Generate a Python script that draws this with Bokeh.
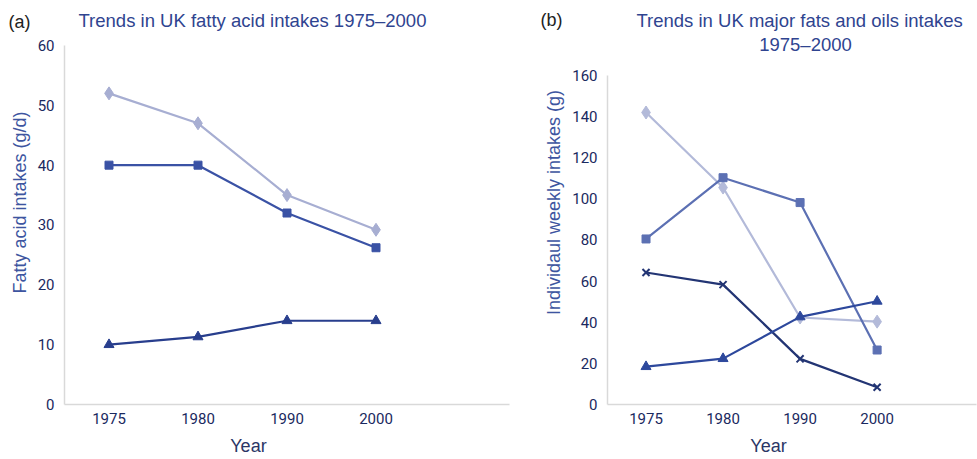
from bokeh.plotting import figure
from bokeh.layouts import row
from bokeh.models import Range1d, FixedTicker, Label, LinearAxis
from bokeh.embed import file_html
from bokeh.resources import INLINE

# ---------------- data ----------------
years = ["1975", "1980", "1990", "2000"]

# (a) fatty acid intakes (g/d)
a_diamond = [52, 47, 35, 29.2]
a_square = [40, 40, 32, 26.2]
a_triangle = [10, 11.3, 14, 14]
a_ticks = [0, 10, 20, 30, 40, 50, 60]

# (b) individual weekly intakes of major fats and oils (g)
b_diamond = [142, 105.5, 42.3, 40.3]
b_square = [80.5, 110.3, 98.2, 26.5]
b_cross = [64.2, 58.3, 22.2, 8.4]
b_triangle = [18.4, 22.3, 42.6, 50.2]
b_ticks = [0, 20, 40, 60, 80, 100, 120, 140, 160]

TEXT_FONT = "Liberation Sans"
TICK_FONT = "Roboto"
TITLE_COLOR = "#2f4490"
TICK_COLOR = "#1a2960"
YLABEL_COLOR = "#3d55a0"
XLABEL_COLOR = "#2b3666"
AXIS_COLOR = "#d9d9d9"

xs = list(range(len(years)))


def plain_axis(ax):
    ax.major_tick_line_color = None
    ax.minor_tick_line_color = None
    ax.major_tick_out = 0
    ax.major_tick_in = 0
    ax.minor_tick_out = 0
    ax.minor_tick_in = 0


def base_figure(width, x_end, y_top, y_end, ticks, left, right, ylabel,
                tag, tag_y, tag_standoff, year_x):
    p = figure(width=width, height=459,
               x_range=Range1d(-0.5, x_end), y_range=Range1d(0, y_end),
               output_backend="svg", toolbar_location=None, title=None,
               min_border_left=left, min_border_right=right,
               min_border_top=0, min_border_bottom=55)
    p.outline_line_color = None
    p.grid.visible = False
    for ax in (p.xaxis[0], p.yaxis[0]):
        plain_axis(ax)
        ax.axis_line_color = AXIS_COLOR
        ax.axis_line_width = 1.5
        ax.major_label_text_font = TICK_FONT
        ax.major_label_text_font_size = "15px"
        ax.major_label_text_color = TICK_COLOR
        ax.major_label_standoff = 10
    p.xaxis.major_label_standoff = 8
    p.xaxis.ticker = FixedTicker(ticks=xs)
    p.xaxis.major_label_overrides = {i: y for i, y in enumerate(years)}
    p.yaxis.ticker = FixedTicker(ticks=ticks)
    p.yaxis.bounds = (0, y_top)
    p.yaxis.axis_label = ylabel
    p.yaxis.axis_label_text_font = TEXT_FONT
    p.yaxis.axis_label_text_font_size = "18px"
    p.yaxis.axis_label_text_font_style = "normal"
    p.yaxis.axis_label_text_color = YLABEL_COLOR
    p.yaxis.axis_label_standoff = 5
    # panel tag "(a)" / "(b)" shown as a horizontal label on an extra axis
    tag_axis = LinearAxis(ticker=FixedTicker(ticks=[tag_y]),
                          major_label_overrides={tag_y: tag},
                          axis_line_color=None,
                          major_label_text_font=TEXT_FONT,
                          major_label_text_font_size="18px",
                          major_label_text_color="#222222",
                          major_label_standoff=tag_standoff)
    plain_axis(tag_axis)
    p.add_layout(tag_axis, "left")
    # x-axis title "Year" placed as in the original (under the year columns)
    year_axis = LinearAxis(ticker=FixedTicker(ticks=[year_x]),
                           major_label_overrides={year_x: "Year"},
                           axis_line_color=None,
                           major_label_text_font=TEXT_FONT,
                           major_label_text_font_size="18px",
                           major_label_text_color=XLABEL_COLOR,
                           major_label_standoff=9)
    plain_axis(year_axis)
    p.add_layout(year_axis, "below")
    return p


def series(p, ys, color, marker, size, lw=2.2):
    p.line(xs, ys, line_color=color, line_width=lw)
    if marker == "x":
        p.scatter(xs, ys, marker="x", size=size, line_color=color, line_width=2)
    else:
        p.scatter(xs, ys, marker=marker, size=size, fill_color=color,
                  line_color=color)


def text(p, x, y, s, color, size="18.5px"):
    p.add_layout(Label(x=x, y=y, text=s, text_font=TEXT_FONT,
                       text_font_size=size, text_color=color,
                       text_align="center", text_baseline="middle"))


# ---------------- panel (a) ----------------
pa = base_figure(530, 4.5, 60, 67.52, a_ticks, 64, 21,
                 "Fatty acid intakes (g/d)", "(a)", 64, -24, 1.567)
series(pa, a_diamond, "#a7aed2", "diamond", 13)
series(pa, a_square, "#3a52a5", "square", 8)
series(pa, a_triangle, "#283e8d", "triangle", 10)
text(pa, 1.612, 64.18, "Trends in UK fatty acid intakes 1975\u20132000", TITLE_COLOR)

# ---------------- panel (b) ----------------
pb = base_figure(447, 4.29, 160, 196.47, b_ticks, 77, 1,
                 "Individaul weekly intakes (g)", "(b)", 187, -21, 1.59)
series(pb, b_diamond, "#b3bad9", "diamond", 13)
series(pb, b_square, "#5c70b3", "square", 8)
series(pb, b_cross, "#233574", "x", 10)
series(pb, b_triangle, "#2d489c", "triangle", 10)
text(pb, 1.994, 186.75, "Trends in UK major fats and oils intakes", TITLE_COLOR)
text(pb, 2.07, 175.08, "1975\u20132000", TITLE_COLOR)

layout = row(pa, pb)
open("out.html", "w").write(file_html(layout, INLINE))
